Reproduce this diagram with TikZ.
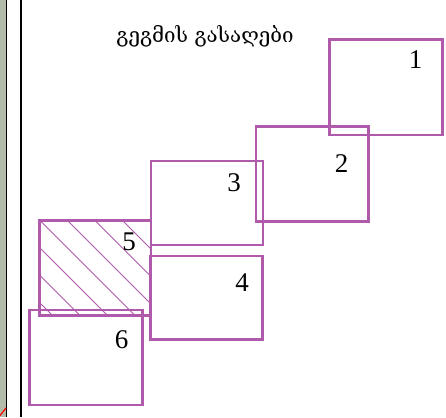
\documentclass[tikz,border=0pt]{standalone}
\usepackage{fontspec}
\setmainfont{Liberation Serif}
\newfontfamily\geofont[Script=Georgian]{DejaVu Serif}
\begin{document}
\begin{tikzpicture}[x=1pt,y=-1pt,
  plotline/.style={draw=plotpurple,line width=2.5pt},
  numlabel/.style={font=\fontsize{27}{30}\selectfont,inner sep=0pt},
  hatchline/.style={draw=plotpurple,line width=1pt}]
\definecolor{plotpurple}{RGB}{176,90,172}
\definecolor{stripgray}{RGB}{178,188,168}
\useasboundingbox (0,0) rectangle (446,417);
\fill[white] (0,0) rectangle (446,417);

% left margin: textured strip and double frame rule
\fill[stripgray] (0,0) rectangle (6,417);
\draw[black,line width=1.4pt] (6.6,0) -- (6.6,417);
\draw[black,line width=2pt] (21,0) -- (21,417);
\draw[red,line width=1.2pt] (0,415.5) -- (6,408);

% plan title
\node[font=\geofont\fontsize{20.5}{24}\selectfont,inner sep=0pt] (title) at (205,36) {გეგმის გასაღები};

% hatching of zone 5
\begin{scope}
  \clip (39.3,220.7) rectangle (151,315.3);
  \foreach \c in {-98,-125.5,-153,-180.5,-208,-235.5,-263,-290.5} {
    \draw[hatchline] (39.3,39.3-\c) -- (151,151-\c);
  }
\end{scope}

% zone outlines
\draw[plotline] (39.3,220.7) rectangle (151,315.3);
\draw[plotline] (29.3,310) rectangle (142.3,405);
\draw[plotline,line width=1.9pt] (150.7,160.7) rectangle (262.7,245);
\draw[plotline] (150.7,256) rectangle (262.7,339.3);
\draw[plotline] (256,126.7) rectangle (368.7,221.3);
\draw[plotline] (329.3,39.3) rectangle (442.7,135);

% zone numbers
\node[numlabel] (n1) at (415.7,60) {1};
\node[numlabel] (n2) at (341.7,164) {2};
\node[numlabel] (n3) at (234,183) {3};
\node[numlabel] (n4) at (242,283) {4};
\node[numlabel] (n5) at (129,241.5) {5};
\node[numlabel] (n6) at (121.7,340) {6};
\end{tikzpicture}
\end{document}
